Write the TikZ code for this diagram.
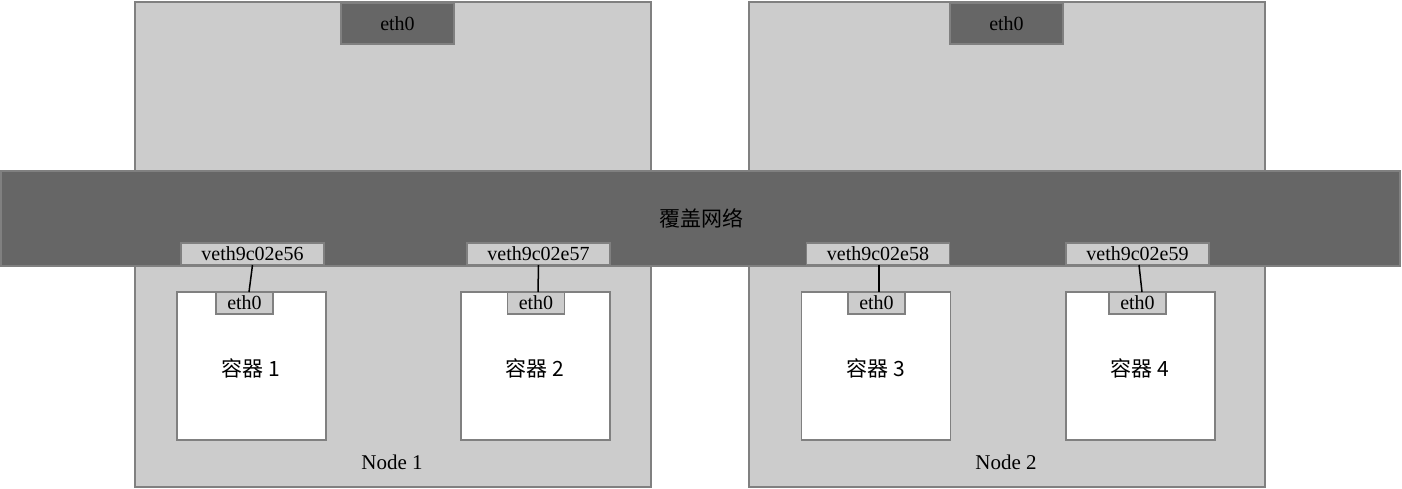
\documentclass[tikz,border=0pt]{standalone}
\usepackage{fontspec}
\setmainfont{Liberation Serif}
\newfontfamily\cjk{Noto Sans CJK SC}
\definecolor{hostgray}{HTML}{CCCCCC}
\definecolor{netgray}{HTML}{666666}
\definecolor{edgegray}{HTML}{808080}
\tikzset{
  box/.style={draw=edgegray, line width=1.5pt, inner sep=0pt, outer sep=0pt},
  hostbox/.style={box, fill=hostgray, minimum width=516pt, minimum height=485pt},
  netbox/.style={box, fill=netgray},
  ifbox/.style={box, fill=hostgray, minimum height=22pt},
  ctrbox/.style={box, fill=white, minimum width=149pt, minimum height=148pt},
  lbl/.style={inner sep=0pt, font=\fontsize{21}{24}\selectfont},
  cjklbl/.style={inner sep=0pt, font=\cjk\fontsize{21}{24}\selectfont},
}

\begin{document}
\begin{tikzpicture}[x=1pt,y=-1pt]
\useasboundingbox (0,0) rectangle (1402,488);
% hosts
\node [hostbox] (node1) at (393,244.5) {};
\node [hostbox] (node2) at (1007,244.5) {};
\node [netbox, minimum width=113pt, minimum height=41pt, font=\fontsize{20}{23}\selectfont] (h1eth) at (397.5,23.5) {eth0};
\node [netbox, minimum width=113pt, minimum height=41pt, font=\fontsize{20}{23}\selectfont] (h2eth) at (1006.5,23.5) {eth0};
\node [lbl] (n1lbl) at (392,462) {Node 1};
\node [lbl] (n2lbl) at (1006,462) {Node 2};
% overlay network
\node [netbox, minimum width=1399pt, minimum height=95pt] (overlay) at (700.5,218.5) {};
\node [cjklbl] (overlaylbl) at (701,218) {覆盖网络};
% veth pairs
\node [ifbox, minimum width=143pt, font=\fontsize{20}{23}\selectfont] (veth1) at (252.5,254) {veth9c02e56};
\node [ifbox, minimum width=143pt, font=\fontsize{20}{23}\selectfont] (veth2) at (538.5,254) {veth9c02e57};
\node [ifbox, minimum width=143pt, font=\fontsize{20}{23}\selectfont] (veth3) at (878,254) {veth9c02e58};
\node [ifbox, minimum width=143pt, font=\fontsize{20}{23}\selectfont] (veth4) at (1137.5,254) {veth9c02e59};
% containers
\node [ctrbox] (ctr1) at (251.5,366) {};
\node [ctrbox] (ctr2) at (535.5,366) {};
\node [ctrbox] (ctr3) at (876,366) {};
\node [ctrbox] (ctr4) at (1140.5,366) {};
\node [cjklbl] (ctr1lbl) at (251,368) {容器 1};
\node [cjklbl] (ctr2lbl) at (535,368) {容器 2};
\node [cjklbl] (ctr3lbl) at (876,368) {容器 3};
\node [cjklbl] (ctr4lbl) at (1140,368) {容器 4};
\node [ifbox, minimum width=57pt, font=\fontsize{20}{23}\selectfont] (eth1) at (244.5,303) {eth0};
\node [ifbox, minimum width=57pt, font=\fontsize{20}{23}\selectfont] (eth2) at (536,303) {eth0};
\node [ifbox, minimum width=57pt, font=\fontsize{20}{23}\selectfont] (eth3) at (876.5,303) {eth0};
\node [ifbox, minimum width=57pt, font=\fontsize{20}{23}\selectfont] (eth4) at (1137.5,303) {eth0};
% links
\draw [line width=1.5pt] (veth1.south) -- ([xshift=4.5pt]eth1.north);
\draw [line width=1.5pt] (veth2.south) -- ([xshift=2pt]eth2.north);
\draw [line width=1.5pt] ([xshift=1pt]veth3.south) -- ([xshift=2.5pt]eth3.north);
\draw [line width=1.5pt] ([xshift=1.5pt]veth4.south) -- ([xshift=4.5pt]eth4.north);
\end{tikzpicture}
\end{document}
